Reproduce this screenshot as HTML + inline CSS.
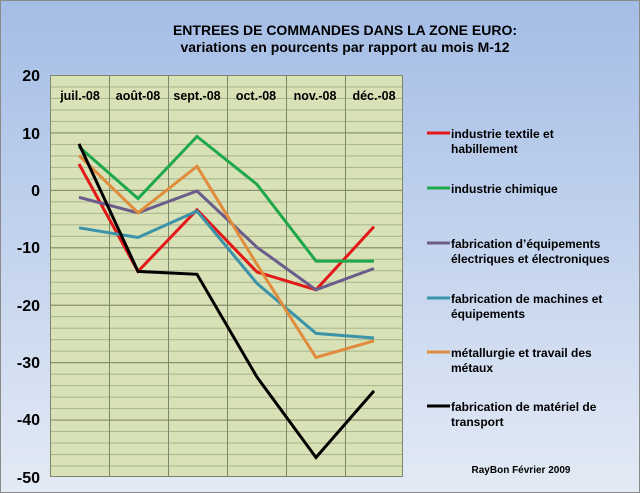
<!DOCTYPE html>
<html><head><meta charset="utf-8"><style>
html,body{margin:0;padding:0;width:640px;height:493px;overflow:hidden}
svg text{font-family:"Liberation Sans",sans-serif;font-weight:bold}
</style></head><body>
<svg width="640" height="493" xmlns="http://www.w3.org/2000/svg">
<defs>
<linearGradient id="bg" x1="0" y1="0" x2="0" y2="1">
<stop offset="0" stop-color="#a4bde6"/><stop offset="1" stop-color="#e3eaf5"/>
</linearGradient>
<pattern id="minor" x="50" y="75" width="400" height="11.486" patternUnits="userSpaceOnUse">
<line x1="0" y1="0.5" x2="400" y2="0.5" stroke="#a9b38e" stroke-width="1"/>
</pattern>
<pattern id="major" x="50" y="75" width="400" height="57.43" patternUnits="userSpaceOnUse">
<line x1="0" y1="0.5" x2="400" y2="0.5" stroke="#7f876a" stroke-width="1"/>
</pattern>
</defs>
<rect x="0" y="0" width="640" height="493" fill="url(#bg)"/>
<rect x="0.5" y="0.5" width="639" height="492" fill="none" stroke="#8a8a8a"/>
<text x="345" y="35" font-size="14" text-anchor="middle">ENTREES DE COMMANDES DANS LA ZONE EURO:</text>
<text x="345" y="52" font-size="14" text-anchor="middle">variations  en pourcents par rapport au mois M-12</text>
<rect x="50" y="75" width="353" height="402" fill="#d8e2b6"/>
<rect x="50" y="75" width="353" height="402" fill="url(#minor)"/>
<rect x="50" y="75" width="353" height="402" fill="url(#major)"/>
<g stroke="#7f876a" stroke-width="1">
<line x1="109.5" y1="75" x2="109.5" y2="477"/><line x1="168.5" y1="75" x2="168.5" y2="477"/>
<line x1="227.5" y1="75" x2="227.5" y2="477"/><line x1="286.5" y1="75" x2="286.5" y2="477"/>
<line x1="345.5" y1="75" x2="345.5" y2="477"/>
<rect x="50.5" y="75.5" width="352" height="401" fill="none"/>
</g>
<g font-size="16" text-anchor="end">
<text x="40" y="81">20</text><text x="40" y="139">10</text><text x="40" y="196">0</text>
<text x="40" y="253">-10</text><text x="40" y="311">-20</text><text x="40" y="368">-30</text>
<text x="40" y="425">-40</text><text x="40" y="483">-50</text>
</g>
<g font-size="12.5" text-anchor="middle">
<text x="80" y="100">juil.-08</text><text x="138" y="100">août-08</text><text x="197" y="100">sept.-08</text>
<text x="256" y="100">oct.-08</text><text x="315" y="100">nov.-08</text><text x="374" y="100">déc.-08</text>
</g>
<g fill="none" stroke-width="3" stroke-linejoin="miter">
<polyline stroke="#e31818" points="79,164 138,271.4 197,209.8 257,272 316,289.8 374,226.6"/>
<polyline stroke="#1fa84a" points="79,146.8 138,198.5 197,136.5 257,184.4 316,261.1 374,261.1"/>
<polyline stroke="#6b5c8c" points="79,197.3 138,212.8 197,191 257,247.3 316,289.8 374,268.5"/>
<polyline stroke="#3a93a8" points="79,227.8 138,237.5 197,211.1 257,283.4 316,333.4 374,338"/>
<polyline stroke="#e08c3c" points="79,155.4 138,212.8 197,166.3 257,264.5 316,357.5 374,340.8"/>
<polyline stroke="#000" points="79,143.9 138,271.4 197,274.3 257,377.1 316,457.5 374,390.9"/>
</g>
<g stroke-width="3">
<line x1="427" y1="133" x2="450" y2="133" stroke="#e31818"/>
<line x1="427" y1="188" x2="450" y2="188" stroke="#1fa84a"/>
<line x1="427" y1="243" x2="450" y2="243" stroke="#6b5c8c"/>
<line x1="427" y1="298" x2="450" y2="298" stroke="#3a93a8"/>
<line x1="427" y1="352" x2="450" y2="352" stroke="#e08c3c"/>
<line x1="427" y1="406" x2="450" y2="406" stroke="#000"/>
</g>
<g font-size="12">
<text x="451" y="138">industrie textile et</text><text x="451" y="153">habillement</text>
<text x="451" y="193">industrie chimique</text>
<text x="451" y="248">fabrication d’équipements</text><text x="451" y="263">électriques et électroniques</text>
<text x="451" y="303">fabrication de machines et</text><text x="451" y="318">équipements</text>
<text x="451" y="357">métallurgie et travail des</text><text x="451" y="372">métaux</text>
<text x="451" y="411">fabrication de matériel de</text><text x="451" y="426">transport</text>
</g>
<text x="521" y="473" font-size="10" text-anchor="middle">RayBon Février 2009</text>
</svg>
</body></html>
